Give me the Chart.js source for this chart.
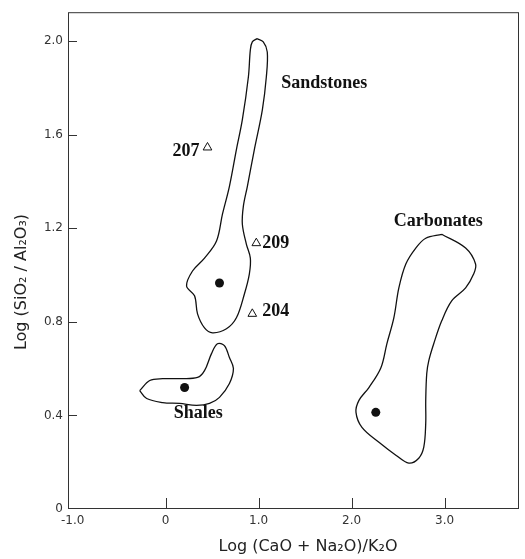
<!DOCTYPE html>
<html>
<head>
<meta charset="utf-8">
<script src="https://cdn.jsdelivr.net/npm/chart.js@4.4.1/dist/chart.umd.min.js"></script>
<style>
  html, body { margin: 0; padding: 0; background: #fff; }
  #wrap { width: 525px; height: 559px; }
</style>
</head>
<body>
<div id="wrap"><canvas id="chart" width="525" height="559"></canvas></div>
<script>
// ============ DATA ============
// field outlines, [x = log((CaO+Na2O)/K2O), y = log(SiO2/Al2O3)]
const sandstoneField = [
    [0.983, 2.010], [1.050, 1.996], [1.093, 1.953], [1.083, 1.847], [1.040, 1.706],
    [0.954, 1.536], [0.879, 1.379], [0.836, 1.294], [0.825, 1.217], [0.868, 1.132],
    [0.911, 1.072], [0.900, 1.004], [0.847, 0.919], [0.761, 0.817], [0.654, 0.770],
    [0.504, 0.753], [0.418, 0.774], [0.343, 0.834], [0.311, 0.911], [0.225, 0.953],
    [0.289, 1.017], [0.418, 1.072], [0.547, 1.145], [0.611, 1.260], [0.686, 1.379],
    [0.761, 1.536], [0.825, 1.664], [0.890, 1.847], [0.911, 1.962], [0.932, 1.996],
    [0.983, 2.010]
];
const shaleField = [
    [-0.279, 0.506], [-0.171, 0.549], [-0.032, 0.557], [0.150, 0.557], [0.343, 0.562],
    [0.418, 0.591], [0.493, 0.664], [0.557, 0.706], [0.632, 0.698], [0.686, 0.647],
    [0.729, 0.600], [0.686, 0.536], [0.579, 0.477], [0.472, 0.451], [0.332, 0.443],
    [0.150, 0.451], [-0.032, 0.455], [-0.204, 0.472], [-0.279, 0.506]
];
const carbonateField = [
    [2.969, 1.174], [3.226, 1.115], [3.333, 1.047], [3.312, 1.004], [3.226, 0.945],
    [3.076, 0.889], [2.969, 0.804], [2.883, 0.706], [2.830, 0.634], [2.808, 0.579],
    [2.797, 0.464], [2.797, 0.366], [2.776, 0.264], [2.722, 0.217], [2.615, 0.196],
    [2.476, 0.230], [2.294, 0.285], [2.111, 0.349], [2.047, 0.413], [2.079, 0.464],
    [2.186, 0.519], [2.315, 0.604], [2.379, 0.706], [2.454, 0.817], [2.508, 0.945],
    [2.583, 1.047], [2.690, 1.115], [2.797, 1.157], [2.969, 1.174]
];

// average compositions (filled dots)
const averageX = [0.579, 0.204, 2.260];
const averageY = [0.966, 0.519, 0.413];

// studied samples (open triangles)
const sampleIds = ['207', '209', '204'];
const sampleX = [0.450, 0.975, 0.932];
const sampleY = [1.545, 1.136, 0.834];

// ticks
const xTicks = [-1, 0, 1, 2, 3];
const yTicks = [0, 0.4, 0.8, 1.2, 1.6, 2.0];

// text on the plot: [text, x, y, align]
const plotLabels = [
    ['Sandstones', 1.243, 1.817, 'left'],
    ['Carbonates', 2.454, 1.230, 'left'],
    ['Shales', 0.086, 0.409, 'left'],
    ['207', 0.364, 1.528, 'right'],
    ['209', 1.040, 1.136, 'left'],
    ['204', 1.040, 0.843, 'left']
];

const toPoints = arr => arr.map(p => ({ x: p[0], y: p[1] }));
const zip = (xs, ys) => xs.map((x, i) => ({ x: x, y: ys[i] }));

const INK = '#111';
const SANS = "'DejaVu Sans', sans-serif";
const SERIF = "'Liberation Serif', 'DejaVu Serif', serif";

function fieldDataset(arr) {
    return {
        data: toPoints(arr),
        showLine: true,
        borderColor: INK,
        borderWidth: 1.3,
        tension: 0.35,
        pointRadius: 0,
        fill: false
    };
}

// ============ EXTRA DRAWING (frame, inner ticks, titles, labels) ============
const decorPlugin = {
    id: 'decor',
    afterDraw(chart) {
        const ctx = chart.ctx;
        const a = chart.chartArea;
        const xs = chart.scales.x;
        const ys = chart.scales.y;
        ctx.save();
        ctx.strokeStyle = '#333';
        ctx.lineWidth = 1;
        ctx.strokeRect(a.left + 0.5, a.top + 0.5, a.right - a.left - 1, a.bottom - a.top - 1);

        // inward tick marks
        ctx.beginPath();
        yTicks.slice(1).forEach(v => {
            const py = Math.round(ys.getPixelForValue(v)) + 0.5;
            ctx.moveTo(a.left, py);
            ctx.lineTo(a.left + 9, py);
        });
        xTicks.slice(1).forEach(v => {
            const px = Math.round(xs.getPixelForValue(v)) + 0.5;
            ctx.moveTo(px, a.bottom);
            ctx.lineTo(px, a.bottom - 11);
        });
        ctx.stroke();

        // axis titles
        ctx.fillStyle = '#222';
        ctx.font = '16px ' + SANS;
        ctx.textAlign = 'center';
        ctx.textBaseline = 'middle';
        ctx.fillText('Log (CaO + Na\u2082O)/K\u2082O', 308, 547);
        ctx.translate(22, 282);
        ctx.rotate(-Math.PI / 2);
        ctx.fillText('Log (SiO\u2082 / Al\u2082O\u2083)', 0, 0);
        ctx.setTransform(1, 0, 0, 1, 0, 0);

        // field names and sample numbers
        ctx.fillStyle = INK;
        ctx.font = 'bold 18px ' + SERIF;
        plotLabels.forEach(l => {
            ctx.textAlign = l[3];
            ctx.fillText(l[0], xs.getPixelForValue(l[1]), ys.getPixelForValue(l[2]));
        });
        ctx.restore();
    }
};

new Chart(document.getElementById('chart').getContext('2d'), {
    type: 'scatter',
    data: {
        datasets: [
            fieldDataset(sandstoneField),
            fieldDataset(shaleField),
            fieldDataset(carbonateField),
            {
                data: zip(averageX, averageY),
                pointStyle: 'circle',
                pointRadius: 4.5,
                backgroundColor: INK,
                borderColor: INK,
                borderWidth: 0
            },
            {
                data: zip(sampleX, sampleY),
                pointStyle: 'triangle',
                pointRadius: 5,
                backgroundColor: '#fff',
                borderColor: INK,
                borderWidth: 1
            }
        ]
    },
    options: {
        responsive: false,
        animation: false,
        layout: { padding: { top: 10, right: 6, left: 0, bottom: 0 } },
        plugins: {
            legend: { display: false },
            tooltip: { enabled: false }
        },
        scales: {
            x: {
                type: 'linear',
                min: -1.05,
                max: 3.8,
                afterFit: s => { s.height = 50; },
                afterBuildTicks: s => { s.ticks = xTicks.map(v => ({ value: v })); },
                grid: { display: false, drawTicks: false },
                border: { display: false },
                ticks: {
                    padding: 5,
                    color: '#333',
                    font: { family: SANS, size: 12 },
                    maxRotation: 0,
                    callback: v => v === 0 ? '0' : v.toFixed(1)
                }
            },
            y: {
                type: 'linear',
                min: 0,
                max: 2.123,
                afterFit: s => { s.width = 68; },
                afterBuildTicks: s => { s.ticks = yTicks.map(v => ({ value: v })); },
                grid: { display: false, drawTicks: false },
                border: { display: false },
                ticks: {
                    padding: 5,
                    color: '#333',
                    font: { family: SANS, size: 12 },
                    callback: v => v === 0 ? '0' : v.toFixed(1)
                }
            }
        }
    },
    plugins: [decorPlugin]
});
</script>
</body>
</html>
